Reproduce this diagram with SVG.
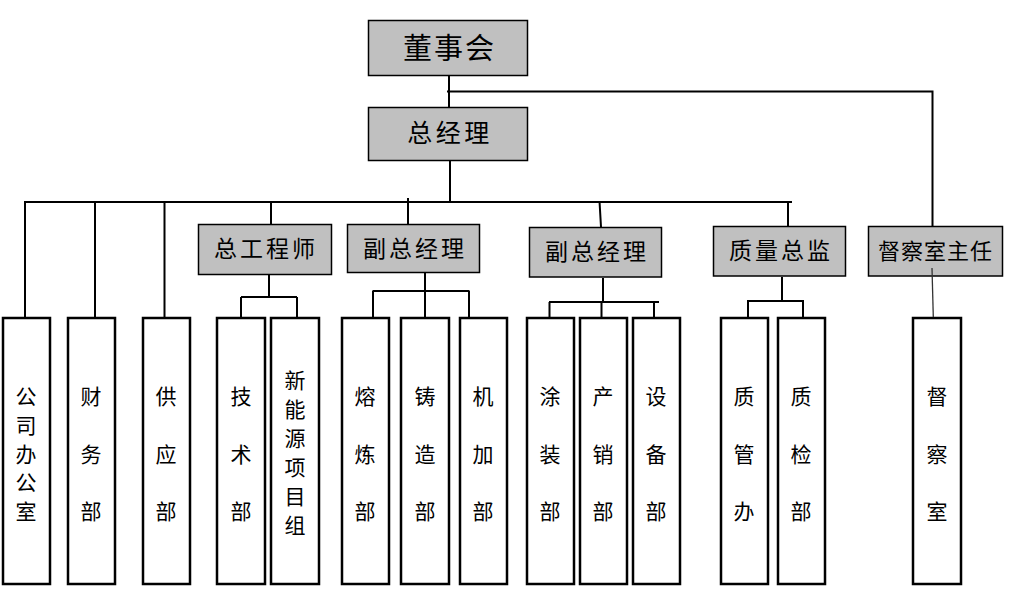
<svg xmlns="http://www.w3.org/2000/svg" width="1010" height="592" viewBox="0 0 1010 592">
<style>
.box{fill:#c0c0c0;stroke:#000;stroke-width:1.5}
.dept{fill:#fff;stroke:#000;stroke-width:2.5}
.h{font-family:"Noto Sans CJK SC","Noto Sans CJK JP",sans-serif;fill:#000;text-anchor:middle}
.v{font-family:"Noto Sans CJK SC","Noto Sans CJK JP",sans-serif;fill:#000;text-anchor:middle;font-size:21px}
.ln{stroke:#000;stroke-width:2;fill:none}
</style>
<rect width="1010" height="592" fill="#fff"/>
<g id="n-dongshihui"><rect class="box" x="368.5" y="20.5" width="159" height="55"/><text class="h" x="449.5" y="59" font-size="29" letter-spacing="2">董事会</text></g>
<g id="n-zongjingli"><rect class="box" x="368.5" y="107.5" width="159" height="53"/><text class="h" x="450" y="142" font-size="25" letter-spacing="3.5">总经理</text></g>
<g id="n-zonggongchengshi"><rect class="box" x="198.5" y="224.5" width="133" height="50"/><text class="h" x="266" y="257" font-size="23" letter-spacing="3">总工程师</text></g>
<g id="n-fuzong1"><rect class="box" x="347.5" y="224.5" width="132" height="48"/><text class="h" x="415" y="257" font-size="23" letter-spacing="3">副总经理</text></g>
<g id="n-fuzong2"><rect class="box" x="529.5" y="227.5" width="132" height="49.5"/><text class="h" x="597" y="260" font-size="23" letter-spacing="3">副总经理</text></g>
<g id="n-zhiliang"><rect class="box" x="713.5" y="226.5" width="132" height="49.5"/><text class="h" x="781" y="258.5" font-size="23" letter-spacing="3">质量总监</text></g>
<g id="n-ducha-zhuren"><rect class="box" x="868.5" y="226.5" width="134" height="49.5"/><text class="h" x="935.5" y="258.5" font-size="22" letter-spacing="1">督察室主任</text></g>
<g id="n-gongsi"><rect class="dept" x="3" y="318" width="47" height="266"/><text class="v" x="26"><tspan x="26" y="404">公</tspan><tspan x="26" y="433">司</tspan><tspan x="26" y="461.5">办</tspan><tspan x="26" y="490">公</tspan><tspan x="26" y="519">室</tspan></text></g>
<g id="n-caiwu"><rect class="dept" x="68" y="318" width="47" height="266"/><text class="v"><tspan x="91" y="404">财</tspan><tspan x="91" y="461.5">务</tspan><tspan x="91" y="519">部</tspan></text></g>
<g id="n-gongying"><rect class="dept" x="143" y="318" width="47" height="266"/><text class="v"><tspan x="166" y="404">供</tspan><tspan x="166" y="461.5">应</tspan><tspan x="166" y="519">部</tspan></text></g>
<g id="n-jishu"><rect class="dept" x="217" y="318" width="48" height="266"/><text class="v"><tspan x="241" y="404">技</tspan><tspan x="241" y="461.5">术</tspan><tspan x="241" y="519">部</tspan></text></g>
<g id="n-xinnengyuan"><rect class="dept" x="271" y="318" width="48" height="266"/><text class="v"><tspan x="295" y="387.5">新</tspan><tspan x="295" y="416.5">能</tspan><tspan x="295" y="445.5">源</tspan><tspan x="295" y="474.5">项</tspan><tspan x="295" y="503.5">目</tspan><tspan x="295" y="532.5">组</tspan></text></g>
<g id="n-ronglian"><rect class="dept" x="342" y="318" width="47" height="266"/><text class="v"><tspan x="365" y="404">熔</tspan><tspan x="365" y="461.5">炼</tspan><tspan x="365" y="519">部</tspan></text></g>
<g id="n-zhuzao"><rect class="dept" x="401" y="318" width="48" height="266"/><text class="v"><tspan x="425" y="404">铸</tspan><tspan x="425" y="461.5">造</tspan><tspan x="425" y="519">部</tspan></text></g>
<g id="n-jijia"><rect class="dept" x="460" y="318" width="47" height="266"/><text class="v"><tspan x="483" y="404">机</tspan><tspan x="483" y="461.5">加</tspan><tspan x="483" y="519">部</tspan></text></g>
<g id="n-tuzhuang"><rect class="dept" x="527" y="318" width="47" height="266"/><text class="v"><tspan x="550" y="404">涂</tspan><tspan x="550" y="461.5">装</tspan><tspan x="550" y="519">部</tspan></text></g>
<g id="n-chanxiao"><rect class="dept" x="580" y="318" width="47" height="266"/><text class="v"><tspan x="603" y="404">产</tspan><tspan x="603" y="461.5">销</tspan><tspan x="603" y="519">部</tspan></text></g>
<g id="n-shebei"><rect class="dept" x="633" y="318" width="47" height="266"/><text class="v"><tspan x="656" y="404">设</tspan><tspan x="656" y="461.5">备</tspan><tspan x="656" y="519">部</tspan></text></g>
<g id="n-zhiguan"><rect class="dept" x="721" y="318" width="47" height="266"/><text class="v"><tspan x="744" y="404">质</tspan><tspan x="744" y="461.5">管</tspan><tspan x="744" y="519">办</tspan></text></g>
<g id="n-zhijian"><rect class="dept" x="778" y="318" width="47" height="266"/><text class="v"><tspan x="801" y="404">质</tspan><tspan x="801" y="461.5">检</tspan><tspan x="801" y="519">部</tspan></text></g>
<g id="n-duchashi"><rect class="dept" x="913" y="318" width="48" height="266"/><text class="v"><tspan x="937" y="404">督</tspan><tspan x="937" y="461.5">察</tspan><tspan x="937" y="519">室</tspan></text></g>
<g id="connectors">
<path class="ln" d="M449,76 V107 M447,91.5 H932.5 V226"/>
<path class="ln" d="M450,161 V202 M24,202 H792"/>
<path class="ln" d="M25,202 V317 M95,202 V317 M164.5,202 V317 M271,202 V224 M408,198 V224 M599.5,201 L601,227 M788,202 V226"/>
<path class="ln" d="M269,275 V297 M241,297 H297 M241,297 V317 M297,297 V317"/>
<path class="ln" d="M425,273 V317 M372.5,291 H469.5 M373,291 V317 M469,291 V317"/>
<path class="ln" d="M603,278 V302 M549,302 H659 M549.5,302 V317 M601.5,302 V317 M654,302 V317"/>
<path class="ln" d="M782,277 V301 M747,301 H804 M748,301 V317 M803,301 V317"/>
<path d="M932,268 L933.3,317" stroke="#333" stroke-width="1.3" fill="none"/>
</g>
</svg>
